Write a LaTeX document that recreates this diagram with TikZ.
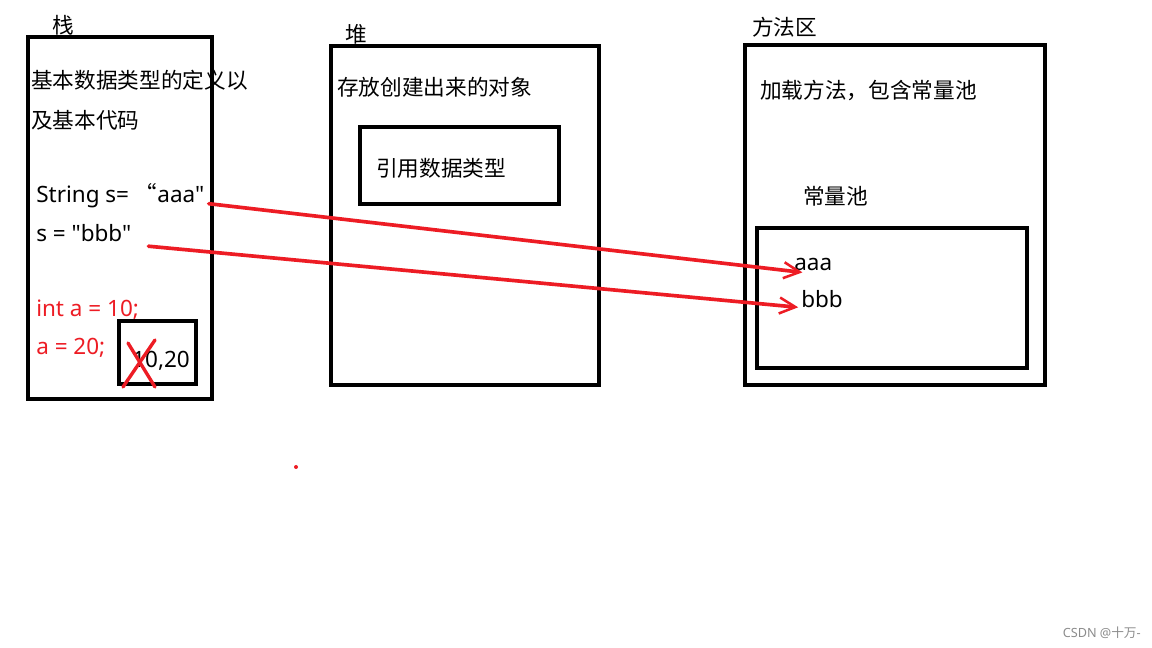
\documentclass[tikz,border=0pt]{standalone}
\usepackage{fontspec}
\newfontfamily\lat{Noto Sans}
\newfontfamily\cjk{Noto Sans CJK SC}
\usepackage{xcolor}
\usetikzlibrary{arrows.meta,positioning}
\definecolor{pen}{HTML}{ED1C24}
\tikzset{
  area/.style={draw=black,line width=3.4pt},
  txt/.style={anchor=base west,inner sep=0pt,font=\lat\fontsize{16}{18}\selectfont},
  zh/.style={anchor=west,inner sep=0pt,font=\cjk\fontsize{15.4}{18}\selectfont},
  redtxt/.style={txt,text=pen},
  ref/.style={-{Straight Barb[length=4mm,width=4mm,line width=1.8pt]},line width=2.6pt,pen,line cap=round},
}
\begin{document}
\begin{tikzpicture}[x=0.025cm,y=-0.025cm]
  \useasboundingbox[fill=white] (0,0) rectangle (1152,648);
  % stack
  \draw[area] (28,37) rectangle (212,399);
  \node[zh] (stk) at (52,25) {栈};
  \node[zh] (d1) at (31,80) {基本数据类型的定义以};
  \node[zh] (d2) at (31,120) {及基本代码};
  \node[txt] (str) at (36,203) {String s= {\cjk “}aaa"};
  \node[txt] (sb) at (36,242) {s = "bbb"};
  \node[redtxt] (ia) at (36,317) {int a = 10;};
  \node[redtxt] (a2) at (36,355) {a = 20;};
  \draw[area] (119,321) rectangle (196,384);
  \node[txt] (val) at (132,368) {10,20};
  \draw[pen,line width=2.4pt,line cap=round] (128,343) -- (155,387);
  \draw[pen,line width=2.4pt,line cap=round] (155,340) -- (123,387);
  % heap
  \draw[area] (331,46) rectangle (599,385);
  \node[zh] (hp) at (345,34) {堆};
  \node[zh] (h1) at (337,87) {存放创建出来的对象};
  \draw[area] (360,127) rectangle (559,204);
  \node[zh] (h2) at (376,168) {引用数据类型};
  % method area
  \draw[area] (745,45) rectangle (1045,385);
  \node[zh] (ma) at (752,27) {方法区};
  \node[zh] (m1) at (760,91) {加载方法，包含常量池};
  \node[zh] (cp) at (803,196) {常量池};
  \draw[area] (757,228) rectangle (1027,368);
  \node[txt] (aaa) at (794,271) {aaa};
  \node[txt] (bbb) at (801,308) {bbb};
  % references
  \draw[ref] ([xshift=3pt,yshift=-0.5pt]str.base east) -- ([xshift=6pt,yshift=-1pt]aaa.base west);
  \draw[ref] ([xshift=12pt,yshift=-3pt]sb.base east) -- ([xshift=-2pt,yshift=0.5pt]bbb.base west);
  \fill[pen] (296,467) circle (2);
  \node[anchor=east,inner sep=0pt,text=black!45,font=\lat\fontsize{9}{11}\selectfont] (wm) at (1141,633) {CSDN @{\cjk 十万}-};
\end{tikzpicture}
\end{document}
